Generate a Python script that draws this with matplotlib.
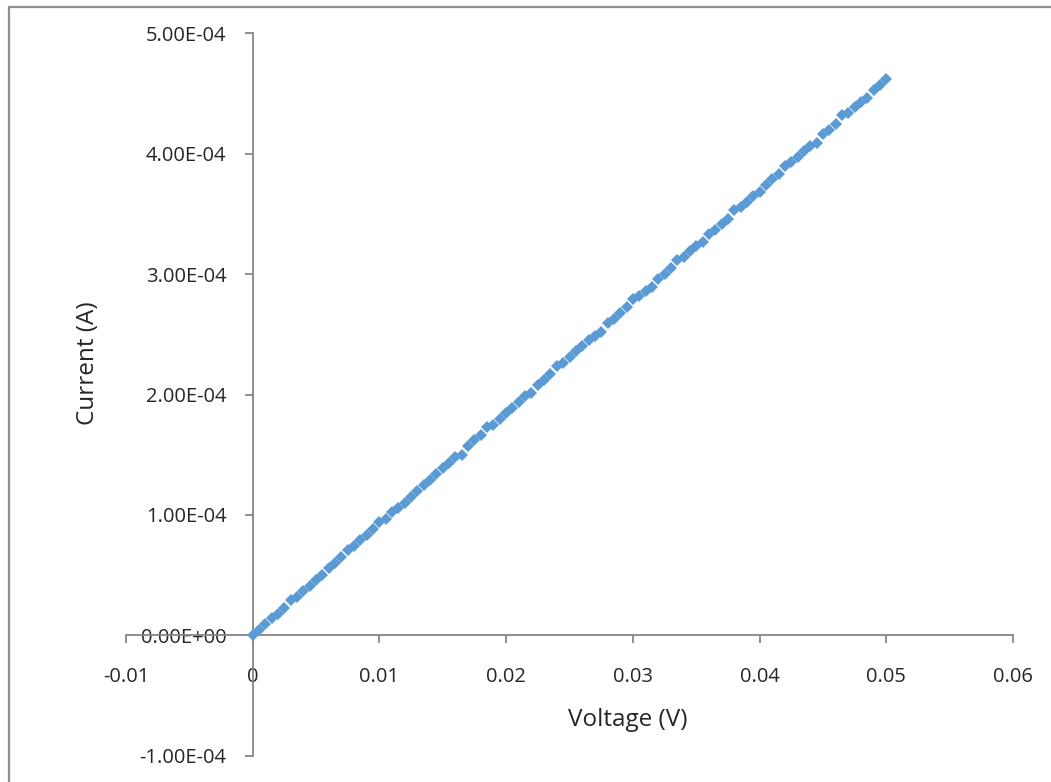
import matplotlib
matplotlib.use("Agg")
import matplotlib.pyplot as plt
from matplotlib.patches import Rectangle
from matplotlib.ticker import FixedLocator

plt.rcParams['font.family'] = ['Open Sans', 'DejaVu Sans']

# Voltage sweep (V)
voltage = [
    0.0000, 0.0005, 0.0010, 0.0015, 0.0020, 0.0025, 0.0030, 0.0035, 0.0040, 0.0045,
    0.0050, 0.0055, 0.0060, 0.0065, 0.0070, 0.0075, 0.0080, 0.0085, 0.0090, 0.0095,
    0.0100, 0.0105, 0.0110, 0.0115, 0.0120, 0.0125, 0.0130, 0.0135, 0.0140, 0.0145,
    0.0150, 0.0155, 0.0160, 0.0165, 0.0170, 0.0175, 0.0180, 0.0185, 0.0190, 0.0195,
    0.0200, 0.0205, 0.0210, 0.0215, 0.0220, 0.0225, 0.0230, 0.0235, 0.0240, 0.0245,
    0.0250, 0.0255, 0.0260, 0.0265, 0.0270, 0.0275, 0.0280, 0.0285, 0.0290, 0.0295,
    0.0300, 0.0305, 0.0310, 0.0315, 0.0320, 0.0325, 0.0330, 0.0335, 0.0340, 0.0345,
    0.0350, 0.0355, 0.0360, 0.0365, 0.0370, 0.0375, 0.0380, 0.0385, 0.0390, 0.0395,
    0.0400, 0.0405, 0.0410, 0.0415, 0.0420, 0.0425, 0.0430, 0.0435, 0.0440, 0.0445,
    0.0450, 0.0455, 0.0460, 0.0465, 0.0470, 0.0475, 0.0480, 0.0485, 0.0490, 0.0495,
    0.0500,
]

# Current (microamps)
current_uA = [
    0, 4, 9, 14, 18, 23, 29, 32, 37, 41,
    46, 50, 56, 60, 65, 71, 74, 79, 83, 88,
    94, 97, 102, 106, 110, 115, 120, 125, 129, 134,
    139, 143, 148, 150, 157, 162, 166, 173, 175, 180,
    185, 189, 194, 199, 201, 208, 212, 217, 224, 226,
    231, 236, 240, 245, 249, 252, 259, 263, 268, 273,
    279, 282, 286, 289, 296, 300, 305, 312, 314, 319,
    323, 327, 333, 337, 342, 346, 353, 356, 360, 365,
    368, 374, 379, 383, 390, 393, 397, 402, 406, 409,
    416, 420, 425, 432, 434, 439, 443, 446, 453, 457,
    462,
]

x_ticks = [-0.01, 0.0, 0.01, 0.02, 0.03, 0.04, 0.05, 0.06]
x_tick_labels = ["-0.01", "0", "0.01", "0.02", "0.03", "0.04", "0.05", "0.06"]
y_ticks = [-1e-4, 0.0, 1e-4, 2e-4, 3e-4, 4e-4, 5e-4]
y_tick_labels = ["-1.00E-04", "0.00E+00", "1.00E-04", "2.00E-04", "3.00E-04", "4.00E-04", "5.00E-04"]

W, H = 1051, 782
fig = plt.figure(figsize=(W / 100, H / 100), dpi=100)
fig.patch.set_facecolor('white')

# outer chart border (top/left visible, right/bottom cropped)
fig.patches.append(Rectangle((8.5 / W, -0.05), 1.2, (H - 7) / H + 0.05,
                             transform=fig.transFigure, fill=False,
                             edgecolor='#8f8f8f', linewidth=1.6, zorder=0))

ax = fig.add_axes([126 / W, (H - 755.7) / H, (1013 - 126) / W, (755.7 - 33.3) / H])
ax.set_xlim(-0.01, 0.06)
ax.set_ylim(-1e-4, 5e-4)

current = [c * 1e-6 for c in current_uA]
ax.plot(voltage, current, linestyle='none', marker='D', markersize=6.3,
        color='#5b9bd5', markeredgewidth=0, zorder=3, clip_on=False)

for s in ['top', 'right']:
    ax.spines[s].set_visible(False)
ax.spines['left'].set_position(('data', 0))
ax.spines['bottom'].set_position(('data', 0))
for s in ['left', 'bottom']:
    ax.spines[s].set_color('#868686')
    ax.spines[s].set_linewidth(1.3)

ax.xaxis.set_major_locator(FixedLocator(x_ticks))
ax.yaxis.set_major_locator(FixedLocator(y_ticks))
ax.set_xticklabels(x_tick_labels)
ax.set_yticklabels(y_tick_labels)
ax.tick_params(axis='both', direction='out', length=6, width=1.3, color='#868686',
               labelsize=14.5, labelcolor='#262626')
ax.tick_params(axis='x', pad=17)
ax.tick_params(axis='y', pad=13)
ax.patch.set_alpha(0)

fig.text(628 / W, 1 - 720 / H, "Voltage (V)", ha='center', va='center',
         fontsize=17.5, color='#262626')
fig.text(88 / W, 1 - 363 / H, "Current (A)", ha='center', va='center',
         rotation=90, fontsize=17.5, color='#262626')

fig.savefig("out.png", dpi=100)
